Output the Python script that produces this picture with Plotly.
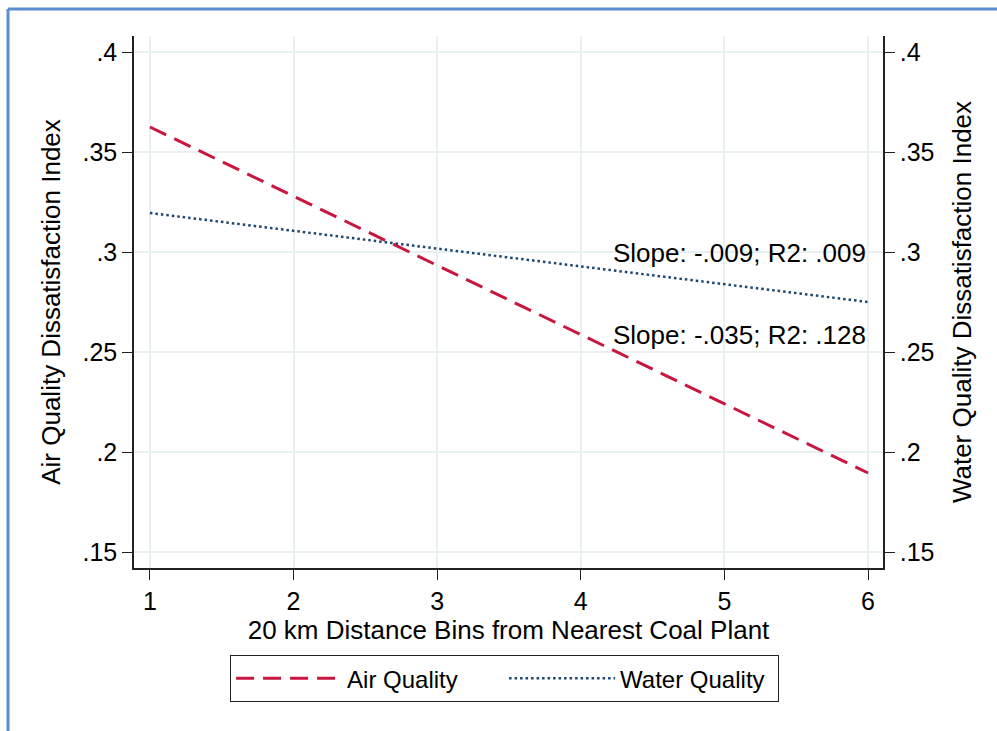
import plotly.graph_objects as go

# Data
distance_bins = [1, 6]
air_quality = [0.3625, 0.1895]
water_quality = [0.3195, 0.2750]
x_ticks = [1, 2, 3, 4, 5, 6]
y_ticks = [0.15, 0.2, 0.25, 0.3, 0.35, 0.4]
y_tick_labels = [".15", ".2", ".25", ".3", ".35", ".4"]
fit_labels = ["Slope: -.009; R2: .009", "Slope: -.035; R2: .128"]
fit_label_y = [0.2995, 0.2585]

FONT = "Liberation Sans, Arial, Helvetica, sans-serif"
GRID = "#e8f0f2"

fig = go.Figure()
fig.add_trace(go.Scatter(
    x=distance_bins, y=air_quality, mode="lines", name="Air Quality",
    line=dict(color="#c8163f", width=3, dash="18px,9px"),
))
fig.add_trace(go.Scatter(
    x=distance_bins, y=water_quality, mode="lines", name="Water Quality",
    line=dict(color="#1a476f", width=2.5, dash="2.5px,3px"), yaxis="y2",
))

for txt, yy in zip(fit_labels, fit_label_y):
    fig.add_annotation(x=6, y=yy, xref="x", yref="y", text=txt, showarrow=False,
                       xanchor="right", yanchor="middle",
                       font=dict(family=FONT, size=26, color="black"))

axis_common = dict(
    showline=True, linecolor="#222", linewidth=1.5,
    ticks="outside", ticklen=10, tickwidth=1.2, tickcolor="#222",
    tickfont=dict(family=FONT, size=25, color="black"),
    zeroline=False,
)

fig.update_layout(
    width=997, height=731,
    paper_bgcolor="white", plot_bgcolor="white",
    margin=dict(l=134, r=114, t=36, b=163),
    font=dict(family=FONT, color="black"),
    xaxis=dict(range=[0.889, 6.104], tickvals=x_ticks,
               showgrid=True, gridcolor=GRID, gridwidth=1.5,
               title=dict(text="20 km Distance Bins from Nearest Coal Plant",
                          font=dict(family=FONT, size=26), standoff=5),
               **axis_common),
    yaxis=dict(range=[0.142, 0.408], tickvals=y_ticks, ticktext=y_tick_labels,
               showgrid=True, gridcolor=GRID, gridwidth=1.5,
               title=dict(text="Air Quality Dissatisfaction Index",
                          font=dict(family=FONT, size=26), standoff=14),
               **axis_common),
    yaxis2=dict(range=[0.142, 0.408], tickvals=y_ticks, ticktext=y_tick_labels,
                overlaying="y", side="right", showgrid=False,
                title=dict(text="Water Quality Dissatisfaction Index",
                           font=dict(family=FONT, size=26), standoff=19),
                **axis_common),
    legend=dict(orientation="h", x=0.128, xanchor="left", y=-0.1635, yanchor="top",
                bordercolor="#222", borderwidth=1.2, bgcolor="white",
                font=dict(family=FONT, size=24), entrywidth=152, itemwidth=106),
    showlegend=True,
    shapes=[
        dict(type="line", xref="paper", yref="paper", x0=-0.1682, x1=-0.1682,
             y0=1.0508, y1=-0.32, line=dict(color="#5b8bd0", width=3)),
        dict(type="line", xref="paper", yref="paper", x0=-0.1682, x1=1.16,
             y0=1.0508, y1=1.0508, line=dict(color="#5b8bd0", width=3)),
    ],
)

fig.write_html("out.html", config={"displayModeBar": False},
               post_script="document.body.style.margin='0';document.body.style.overflow='hidden';")
